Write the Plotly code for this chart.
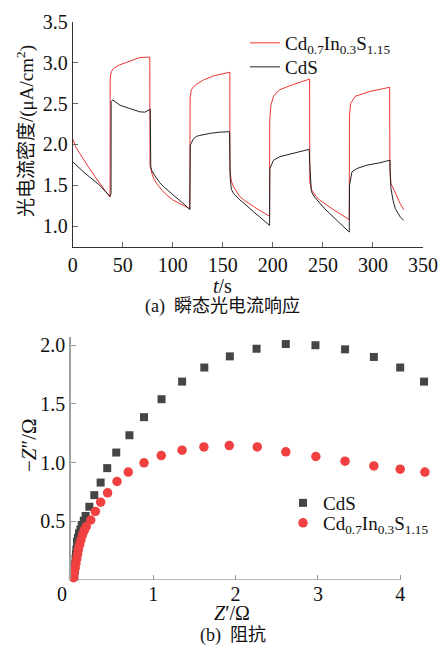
import plotly.graph_objects as go

# ---------------- (a) transient photocurrent ----------------
t_red = [0, 3, 7, 12, 17, 22, 27, 32, 37.3,
         37.5, 38.5, 40.7, 47, 57, 67, 77,
         77.2, 79, 81, 84, 89, 94, 100, 107, 112, 117,
         117.3, 118.5, 121, 124, 130.7, 140.7, 150, 157,
         157.2, 158.5, 160.7, 164, 167, 172, 177, 182, 187, 192, 196.7,
         196.9, 198, 200.7, 204, 207, 217, 229, 236.7,
         236.9, 238.5, 240.7, 244, 247, 252, 257, 262, 267, 272, 276.3,
         276.5, 277.7, 282.3, 290.7, 297.3, 307.3, 316.7,
         316.9, 318, 320.7, 324, 327, 330.7]
i_red = [2.07, 1.97, 1.89, 1.79, 1.70, 1.61, 1.52, 1.44, 1.355,
         2.81, 2.89, 2.93, 2.975, 3.02, 3.065, 3.07,
         1.75, 1.65, 1.58, 1.52, 1.44, 1.38, 1.32, 1.275, 1.24, 1.213,
         2.57, 2.67, 2.71, 2.74, 2.79, 2.84, 2.865, 2.885,
         1.68, 1.55, 1.48, 1.41, 1.36, 1.31, 1.275, 1.23, 1.19, 1.155, 1.12,
         2.30, 2.48, 2.59, 2.64, 2.67, 2.72, 2.77, 2.80,
         1.54, 1.45, 1.405, 1.35, 1.316, 1.27, 1.23, 1.19, 1.15, 1.11, 1.078,
         2.34, 2.50, 2.59, 2.627, 2.65, 2.676, 2.70,
         1.72, 1.52, 1.45, 1.36, 1.28, 1.20]

t_cds = [0, 3, 7, 12, 17, 22, 27, 32, 37.3,
         38.3, 38.4, 40, 44, 47.3, 57, 67, 72, 76.3, 77.5,
         78, 79, 83, 87, 92, 97, 102, 107, 112, 117,
         117.5, 120.7, 124, 127, 137, 147, 156.7,
         157.3, 158.5, 160.7, 167, 172, 177, 182, 187, 192, 196.7,
         197, 200.7, 207, 217, 227, 236.3,
         236.8, 238.5, 242, 247, 252, 257, 262, 267, 272, 276.3,
         276.6, 279, 284, 294, 307, 317,
         317.3, 318, 320, 322.3, 327.3, 330.7]
i_cds = [1.787, 1.75, 1.705, 1.65, 1.60, 1.55, 1.50, 1.43, 1.365,
         1.40, 2.525, 2.545, 2.51, 2.48, 2.44, 2.40, 2.395, 2.42, 2.43,
         1.725, 1.68, 1.60, 1.53, 1.47, 1.42, 1.37, 1.32, 1.26, 1.20,
         1.99, 2.07, 2.10, 2.11, 2.135, 2.15, 2.156,
         1.60, 1.45, 1.40, 1.32, 1.27, 1.21, 1.16, 1.11, 1.06, 1.008,
         1.705, 1.807, 1.85, 1.88, 1.91, 1.94,
         1.77, 1.42, 1.35, 1.275, 1.21, 1.15, 1.09, 1.03, 0.975, 0.926,
         1.50, 1.664, 1.705, 1.746, 1.775, 1.807,
         1.60, 1.46, 1.316, 1.213, 1.11, 1.07]

# ---------------- (b) impedance (Nyquist) ----------------
zr_cds = [0.04, 0.045, 0.05, 0.055, 0.06, 0.065, 0.073, 0.085, 0.097, 0.115,
          0.13, 0.155, 0.178, 0.223, 0.283, 0.36, 0.44, 0.55, 0.71, 0.887,
          1.10, 1.35, 1.62, 1.93, 2.255, 2.61, 2.97, 3.33, 3.68, 4.0, 4.29]
zi_cds = [0.03, 0.08, 0.13, 0.18, 0.22, 0.26, 0.327, 0.36, 0.398, 0.43,
          0.468, 0.505, 0.545, 0.624, 0.723, 0.83, 0.953, 1.086, 1.233, 1.387,
          1.54, 1.69, 1.81, 1.905, 1.97, 2.01, 2.0, 1.965, 1.90, 1.81, 1.69]

zr_cis = [0.03, 0.04, 0.05, 0.06, 0.07, 0.08, 0.09, 0.105, 0.12, 0.14,
          0.16, 0.185, 0.24, 0.296, 0.36, 0.445, 0.559, 0.696, 0.887, 1.097,
          1.35, 1.615, 1.923, 2.263, 2.61, 2.975, 3.33, 3.68, 4.0, 4.30]
zi_cis = [0.02, 0.06, 0.10, 0.14, 0.18, 0.22, 0.26, 0.30, 0.34, 0.385,
          0.42, 0.455, 0.511, 0.584, 0.663, 0.743, 0.839, 0.919, 0.998, 1.06,
          1.106, 1.134, 1.145, 1.134, 1.092, 1.052, 1.012, 0.972, 0.944, 0.919]

top_xticks = [0, 50, 100, 150, 200, 250, 300, 350]
top_yticks = [1.0, 1.5, 2.0, 2.5, 3.0, 3.5]
bot_xticks = [1, 2, 3, 4]
bot_yticks = [0.5, 1.0, 1.5, 2.0]
origin_label = "0"

name_cis = "Cd<sub>0.7</sub>In<sub>0.3</sub>S<sub>1.15</sub>"
name_cds = "CdS"

W, H = 443, 646
SERIF = "Liberation Serif, Times New Roman, serif"
MIXED = "Liberation Serif, Times New Roman, Noto Sans CJK SC"
RED = "#ec3535"
RED_DOT = "#f04040"
BLK = "#222222"
SQ = "#454545"

def px(x):
    return x / W

def py(y):
    return 1 - y / H

fig = go.Figure()
fig.add_trace(go.Scatter(x=t_red, y=i_red, mode="lines", name=name_cis,
                         line=dict(color=RED, width=1), xaxis="x", yaxis="y",
                         legend="legend"))
fig.add_trace(go.Scatter(x=t_cds, y=i_cds, mode="lines", name=name_cds,
                         line=dict(color=BLK, width=1), xaxis="x", yaxis="y",
                         legend="legend2"))
fig.add_trace(go.Scatter(x=zr_cds, y=zi_cds, mode="markers", name=name_cds,
                         marker=dict(symbol="square", size=8, color=SQ),
                         xaxis="x2", yaxis="y2", legend="legend3", cliponaxis=False))
fig.add_trace(go.Scatter(x=zr_cis, y=zi_cis, mode="markers", name=name_cis,
                         marker=dict(symbol="circle", size=9.5, color=RED_DOT),
                         xaxis="x2", yaxis="y2", legend="legend4", cliponaxis=False))

tickfont = dict(family=SERIF, size=20, color="#111")
legfont = dict(family=SERIF, size=19, color="#111")

def leg(x, y):
    return dict(x=px(x), y=py(y), xanchor="left", yanchor="middle",
                font=legfont, bgcolor="rgba(0,0,0,0)", borderwidth=0,
                itemclick=False, itemdoubleclick=False)

fig.update_layout(
    template="none",
    width=W, height=H,
    margin=dict(l=0, r=0, t=0, b=0, pad=0, autoexpand=False),
    paper_bgcolor="white", plot_bgcolor="white",
    font=dict(family=MIXED, color="#111"),
    showlegend=True,
    xaxis=dict(domain=[px(72.7), px(423)], range=[0, 350], anchor="y",
               tickvals=top_xticks, ticks="inside", ticklen=5, tickcolor="#666",
               showline=True, linecolor="#333", linewidth=1, showgrid=False,
               zeroline=False, automargin=False, tickfont=tickfont),
    yaxis=dict(domain=[py(247), py(22)], range=[0.743, 3.5], anchor="x",
               tickvals=top_yticks, tickformat=".1f", ticks="inside", ticklen=5,
               tickcolor="#666", showline=True, linecolor="#333", linewidth=1,
               showgrid=False, zeroline=False, automargin=False, tickfont=tickfont),
    xaxis2=dict(domain=[px(71), px(429)], range=[0, 4.35], anchor="y2",
                tickvals=bot_xticks, ticks="inside", ticklen=5, tickcolor="#999",
                showline=False, showgrid=False, zeroline=False, automargin=False,
                tickfont=tickfont),
    yaxis2=dict(domain=[py(580), py(337)], range=[0, 2.07], anchor="x2",
                tickvals=bot_yticks, tickformat=".1f", ticks="inside", ticklen=5,
                tickcolor="#999", showline=True, linecolor="#a0a0a0", linewidth=1.5,
                showgrid=False, zeroline=False, automargin=False, tickfont=tickfont),
    legend=leg(245, 43),
    legend2=leg(245, 67),
    legend3=leg(283, 503),
    legend4=leg(283, 523),
)

# bottom x axis line spans 0..4 only
fig.add_shape(type="line", xref="x2", yref="y2", x0=0, x1=4, y0=0, y1=0,
              line=dict(color="#a0a0a0", width=1.5), layer="below")

ann = [
    dict(text="光电流密度/(μA/cm<sup>2</sup>)", x=px(25), y=py(131), textangle=-90,
         font=dict(family=MIXED, size=19, color="#111")),
    dict(text="<i>t</i>/s", x=px(223), y=py(286), font=dict(family=SERIF, size=20, color="#111")),
    dict(text="(a)  瞬态光电流响应", x=px(222), y=py(307), font=dict(family=MIXED, size=18, color="#111")),
    dict(text="−<i>Z</i>″/Ω", x=px(29), y=py(445), textangle=-90,
         font=dict(family=SERIF, size=21, color="#111")),
    dict(text=origin_label, x=px(62), y=py(594), font=tickfont),
    dict(text="<i>Z</i>′/Ω", x=px(232), y=py(613), font=dict(family=SERIF, size=20, color="#111")),
    dict(text="(b)  阻抗", x=px(233), y=py(635), font=dict(family=MIXED, size=18, color="#111")),
]
for a in ann:
    a.update(xref="paper", yref="paper", showarrow=False, xanchor="center", yanchor="middle")
    fig.add_annotation(**a)

fig.write_html("out.html")
